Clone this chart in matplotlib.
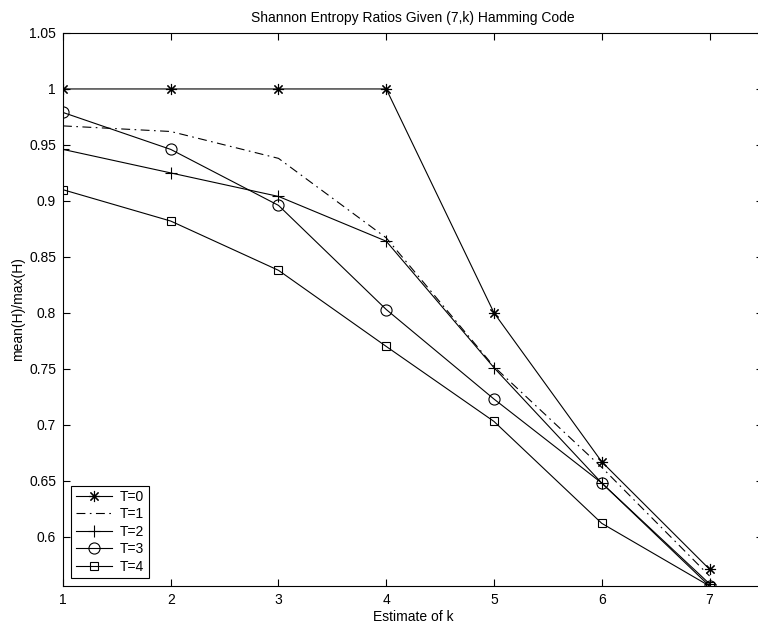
import numpy as np
import matplotlib
matplotlib.use("Agg")
import matplotlib.pyplot as plt

plt.rcParams['font.family'] = ['Liberation Sans', 'DejaVu Sans']

k = [1, 2, 3, 4, 5, 6, 7]
t0 = [1.0, 1.0, 1.0, 1.0, 0.8, 0.667, 0.571]
t1 = [0.967, 0.962, 0.938, 0.867, 0.752, 0.662, 0.565]
t2 = [0.946, 0.925, 0.904, 0.864, 0.751, 0.648, 0.558]
t3 = [0.979, 0.946, 0.896, 0.803, 0.723, 0.648, 0.556]
t4 = [0.910, 0.882, 0.838, 0.770, 0.703, 0.612, 0.556]
labels = ["T=0", "T=1", "T=2", "T=3", "T=4"]
yticks = [0.6, 0.65, 0.7, 0.75, 0.8, 0.85, 0.9, 0.95, 1.0, 1.05]
ytick_labels = ["0.6", "0.65", "0.7", "0.75", "0.8", "0.85", "0.9", "0.95", "1", "1.05"]

fig = plt.figure(figsize=(7.58, 6.33), dpi=100)
# right edge of the axes sits just past the figure edge, as in the scan
ax = fig.add_axes([0.0831, 0.0742, 0.924, 0.8737])

lw = 0.8
star = (8, 2, 0)  # matlab style '*': plus and cross together
ax.plot(k, t0, color="k", lw=lw, marker=star, ms=8, mew=0.8, label=labels[0])
ax.plot(k, t1, color="k", lw=lw, ls=(0, (8, 4, 1.5, 4)), label=labels[1])
ax.plot(k, t2, color="k", lw=lw, marker="+", ms=9, mew=0.8, label=labels[2])
ax.plot(k, t3, color="k", lw=lw, marker="o", ms=8, mfc="none", mew=0.8, label=labels[3])
ax.plot(k, t4, color="k", lw=lw, marker="s", ms=6, mfc="none", mew=0.8, label=labels[4])

ax.set_xlim(1, 7.5)
ax.set_ylim(min(t3 + t4), 1.05)
ax.set_xticks(k)
ax.set_yticks(yticks)
ax.set_yticklabels(ytick_labels)
ax.tick_params(direction="in", length=5, width=0.8, labelsize=10,
               top=True, right=True, pad=5)
for s in ax.spines.values():
    s.set_linewidth(0.8)
ax.spines["right"].set_visible(False)

ax.set_title("Shannon Entropy Ratios Given (7,k) Hamming Code", fontsize=10, pad=8)
ax.set_xlabel("Estimate of k", fontsize=10, labelpad=2)
ax.set_ylabel("mean(H)/max(H)", fontsize=10, labelpad=3)

leg = ax.legend(loc="lower left", bbox_to_anchor=(0.012, 0.015), fontsize=10,
                frameon=True, fancybox=False, edgecolor="k", framealpha=1,
                handlelength=2.6, borderpad=0.3, labelspacing=0.25,
                handletextpad=0.6, borderaxespad=0)
leg.get_frame().set_linewidth(0.8)

fig.savefig("out.png", dpi=100)
